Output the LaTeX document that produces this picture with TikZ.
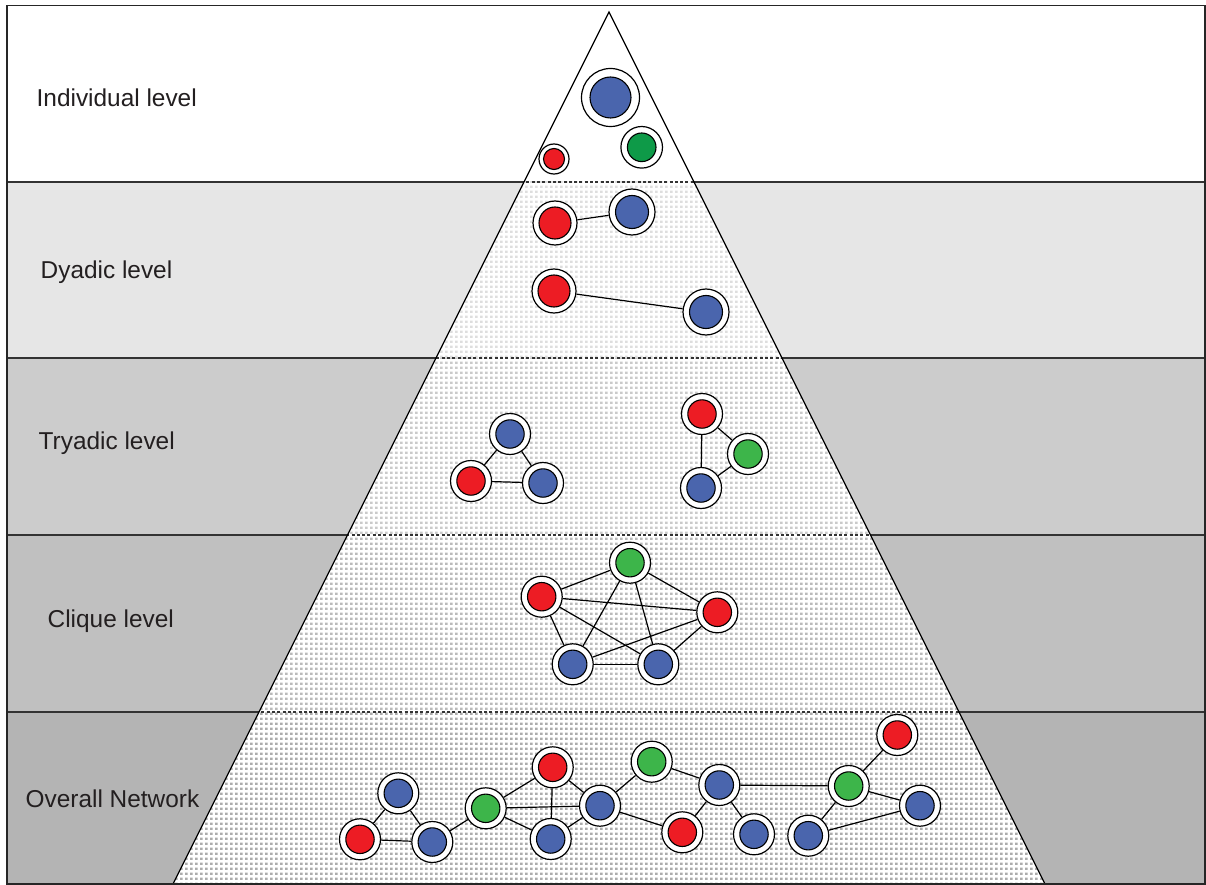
\documentclass[tikz,border=0pt]{standalone}
\usepackage{fontspec}
\setmainfont{Liberation Sans}
\usetikzlibrary{patterns}

% grey square dot screen used inside the pyramid
\pgfdeclarepatternformonly{sqdots}{\pgfpointorigin}{\pgfqpoint{5.33pt}{5.33pt}}{\pgfqpoint{5.33pt}{5.33pt}}%
  {\pgfpathrectangle{\pgfpointorigin}{\pgfqpoint{3pt}{2.7pt}}\pgfusepath{fill}}

\pgfdeclarelayer{bg}
\pgfdeclarelayer{edges}
\pgfsetlayers{bg,edges,main}

\definecolor{nblue}{RGB}{74,101,173}
\definecolor{nred}{RGB}{237,28,36}
\definecolor{ngreen}{RGB}{61,181,74}
\definecolor{dgreen}{RGB}{14,154,72}
\definecolor{txt}{RGB}{35,31,32}
\definecolor{bandB}{RGB}{230,230,230}
\definecolor{bandC}{RGB}{204,204,204}
\definecolor{bandD}{RGB}{192,192,192}
\definecolor{bandE}{RGB}{180,180,180}
\definecolor{dotB}{RGB}{222,222,222}
\definecolor{dotC}{RGB}{202,202,202}
\definecolor{dotD}{RGB}{186,186,186}
\definecolor{dotE}{RGB}{172,172,172}

\tikzset{
  ring/.style n args={3}{circle, draw=black, line width=1.2pt, fill=white,
    inner sep=0pt, minimum size=2*#2 pt,
    path picture={\filldraw[fill=#1, draw=black, line width=1.1pt]
      (path picture bounding box.center) circle[radius=#3pt];}},
  nb/.style={ring={nblue}{20.5}{14.2}},
  nr/.style={ring={nred}{20.5}{14.2}},
  ng/.style={ring={ngreen}{20.5}{14.2}},
  db/.style={ring={nblue}{23}{16.5}},
  dr/.style={ring={nred}{22}{16}},
  link/.style={draw=black, line width=1.2pt},
  lbl/.style={anchor=base west, inner sep=0pt, text=txt,
    font=\fontsize{24.4}{29}\selectfont},
  bandline/.style={draw=black!80, line width=1.1pt},
}

\begin{document}
\begin{tikzpicture}[x=1pt, y=-1pt]
\useasboundingbox (0,0) rectangle (1206,885);

\coordinate (apex) at (609,12);
\coordinate (bl) at (173,884);
\coordinate (br) at (1045,884);

\begin{pgfonlayer}{bg}
  % level bands
  \fill[white] (7,5.5) rectangle (1205,182);
  \fill[bandB] (7,182) rectangle (1205,358);
  \fill[bandC] (7,358) rectangle (1205,535);
  \fill[bandD] (7,535) rectangle (1205,712);
  \fill[bandE] (7,712) rectangle (1205,884);
  \foreach \yy in {182,358,535,712}
    \draw[bandline] (7,\yy) -- (1205,\yy);
  % pyramid body
  \fill[white] (apex) -- (bl) -- (br) -- cycle;
  \begin{scope}
    \clip (apex) -- (bl) -- (br) -- cycle;
    \fill[pattern=sqdots, pattern color=dotB] (7,182) rectangle (1205,358);
    \fill[pattern=sqdots, pattern color=dotC] (7,358) rectangle (1205,535);
    \fill[pattern=sqdots, pattern color=dotD] (7,535) rectangle (1205,712);
    \fill[pattern=sqdots, pattern color=dotE] (7,712) rectangle (1205,884);
    \foreach \yy in {182,358,535,712}
      \draw[bandline, dash pattern=on 3pt off 2.3pt] (7,\yy) -- (1205,\yy);
  \end{scope}
  \draw[line width=1.2pt] (apex) -- (bl) -- (br) -- cycle;
  % outer frame
  \draw[line width=1.2pt, draw=black!85] (7,5.5) rectangle (1205,884);
\end{pgfonlayer}

% level labels
\node[lbl] (lInd) at (36.5,107) {Individual level};
\node[lbl] (lDya) at (40.5,278.5) {Dyadic level};
\node[lbl] (lTry) at (38.5,449) {Tryadic level};
\node[lbl] (lCli) at (47.5,627.5) {Clique level};
\node[lbl] (lNet) at (25.5,807.5) {Overall Network};

% individual level
\node[ring={nblue}{29}{20.5}] (i1) at (610.5,97.5) {};
\node[ring={dgreen}{20.8}{14.3}] (i2) at (641.7,147.3) {};
\node[ring={nred}{15}{10.5}] (i3) at (554,159) {};

% dyadic level
\node[dr] (d1) at (555,223) {};
\node[db] (d2) at (632,212) {};
\node[dr] (d3) at (554,291) {};
\node[db] (d4) at (706,312) {};

% tryadic level
\node[nb] (t1) at (510,434) {};
\node[nr] (t2) at (471,481) {};
\node[nb] (t3) at (543,483) {};
\node[nr] (t4) at (702,414) {};
\node[ng] (t5) at (748,454) {};
\node[nb] (t6) at (701,488) {};

% clique level
\node[ng] (c1) at (630,562.7) {};
\node[nr] (c2) at (541.7,596.7) {};
\node[nr] (c3) at (717.3,612.3) {};
\node[nb] (c4) at (572.7,664.3) {};
\node[nb] (c5) at (658.3,664.3) {};

% overall network
\node[nb] (n1) at (398.3,793.3) {};
\node[nr] (n2) at (360,839.3) {};
\node[nb] (n3) at (432.3,842) {};
\node[ng] (n4) at (485.7,808.3) {};
\node[nr] (n5) at (552.7,767.3) {};
\node[nb] (n6) at (550.7,839) {};
\node[nb] (n7) at (600,805.7) {};
\node[ng] (n8) at (651.7,761.7) {};
\node[nb] (n9) at (719.3,785) {};
\node[nr] (n10) at (682.3,832.3) {};
\node[nb] (n11) at (754,834.3) {};
\node[nb] (n12) at (808.3,835.7) {};
\node[ng] (n13) at (848.7,786) {};
\node[nr] (n14) at (897.3,735) {};
\node[nb] (n15) at (920,805.7) {};

\begin{pgfonlayer}{edges}
  \draw[link] (d1) -- (d2);
  \draw[link] (d3) -- (d4);

  \draw[link] (t1) -- (t2);
  \draw[link] (t1) -- (t3);
  \draw[link] (t2) -- (t3);
  \draw[link] (t4) -- (t5);
  \draw[link] (t4) -- (t6);
  \draw[link] (t5) -- (t6);

  \foreach \a/\b in {c1/c2,c1/c3,c1/c4,c1/c5,c2/c3,c2/c4,c2/c5,c3/c4,c3/c5,c4/c5}
    \draw[link] (\a) -- (\b);

  \foreach \a/\b in {n1/n2,n1/n3,n2/n3,n3/n4,n4/n5,n4/n7,n4/n6,n5/n6,n5/n7,n6/n7,
                     n7/n8,n7/n10,n8/n9,n9/n10,n9/n11,n9/n13,n13/n14,n13/n15,n13/n12,n12/n15}
    \draw[link] (\a) -- (\b);
\end{pgfonlayer}
\end{tikzpicture}
\end{document}
